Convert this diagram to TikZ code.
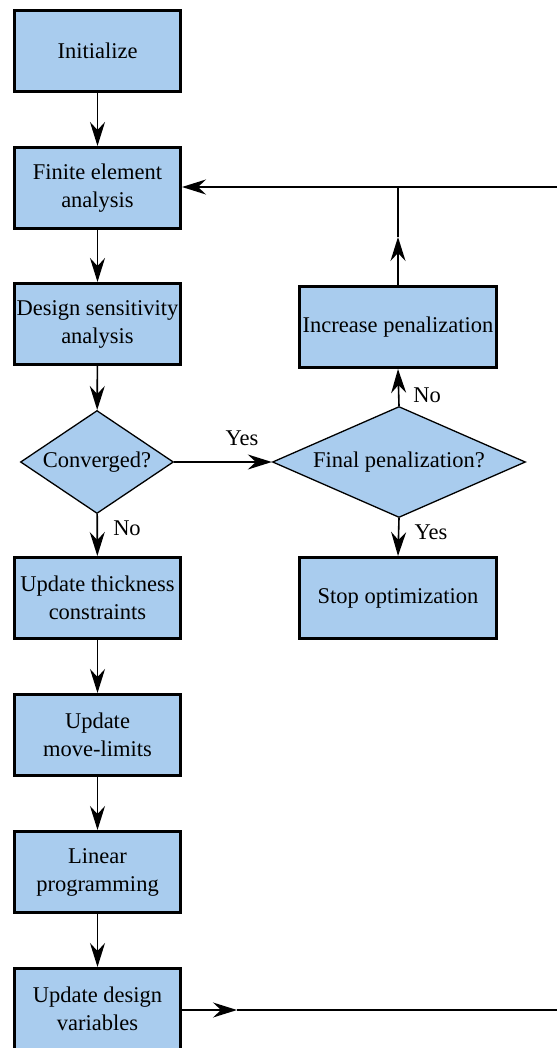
\documentclass[tikz,border=0pt]{standalone}
\usepackage{fontspec}
\setmainfont{LiberationSerif}[Extension=.ttf,UprightFont=*-Regular,BoldFont=*-Bold]
\usetikzlibrary{arrows.meta,shapes.geometric}
\definecolor{boxblue}{RGB}{169,204,238}
\begin{document}
\begin{tikzpicture}[x=1bp,y=-1bp,
  every node/.style={font=\rmfamily\fontsize{22.5bp}{28bp}\selectfont},
  procbox/.style={draw=black,line width=3bp,fill=boxblue,minimum width=166bp,minimum height=81bp,inner sep=0pt,align=center},
  widebox/.style={procbox,minimum width=197bp},
  decision/.style={draw=black,line width=1.3bp,fill=boxblue,shape=diamond,inner sep=0pt,align=center},
  conn/.style={line width=1.6bp},
  arr/.style={conn,-{Stealth[length=24bp,width=15bp,inset=8bp]}},
  lbl/.style={inner sep=0pt}
]
\clip (0,0) rectangle (557,1048);
\fill[white] (0,0) rectangle (557,1048);

\node[procbox] (init) at (97.5,51) {Initialize};
\node[procbox] (fea) at (97.5,188) {Finite element\\analysis};
\node[procbox] (dsa) at (97.5,324) {Design sensitivity\\analysis};
\node[decision,minimum width=153bp,minimum height=103bp,aspect=1.49] (conv) at (97,462) {Converged?};
\node[procbox] (utc) at (97.5,598) {Update thickness\\constraints};
\node[procbox] (uml) at (97.5,735) {Update\\move-limits};
\node[procbox] (lp) at (97.5,872) {Linear\\programming};
\node[procbox] (udv) at (97.5,1009) {Update design\\variables};

\node[widebox] (inc) at (398,327) {Increase penalization};
\node[decision,minimum width=253bp,minimum height=111bp,aspect=2.28] (fin) at (399,462) {Final penalization?};
\node[widebox] (stop) at (398,598) {Stop optimization};

\draw[arr] (init) -- (fea);
\draw[arr] (fea) -- (dsa);
\draw[arr] (dsa) -- (conv);
\draw[arr] (conv) -- (utc);
\draw[arr] (utc) -- (uml);
\draw[arr] (uml) -- (lp);
\draw[arr] (lp) -- (udv);
\draw[arr] (conv.east) -- (fin.west);
\draw[arr] (fin.north) -- (inc.south);
\draw[arr] (fin.south) -- (stop.north);

\node[lbl] (lyes1) at (242,438) {Yes};
\node[lbl] (lno1) at (127,528) {No};
\node[lbl] (lno2) at (427,395) {No};
\node[lbl] (lyes2) at (431,532) {Yes};

% feedback loop
\coordinate (rtop) at (570,187);
\coordinate (junc) at (inc.north |- rtop);
\coordinate (a1) at (inc.north |- 0,237);
\draw[conn] (rtop) -- (junc);
\draw[arr] (junc) -- (fea.east |- rtop);
\draw[arr] (inc.north) -- (a1);
\draw[conn] (a1) -- (junc);

\coordinate (a2) at (237,1010);
\coordinate (rbot) at (570,1010);
\draw[arr] (udv.east |- a2) -- (a2);
\draw[conn] (a2) -- (rbot);
\end{tikzpicture}
\end{document}
